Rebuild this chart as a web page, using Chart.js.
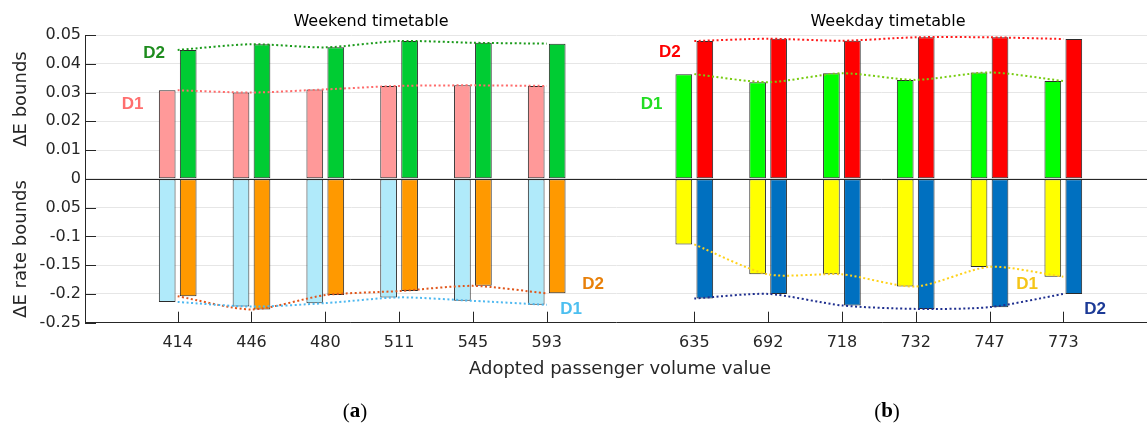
<!DOCTYPE html>
<html>
<head>
<meta charset="utf-8">
<script src="https://cdn.jsdelivr.net/npm/chart.js@4.4.1/dist/chart.umd.min.js"></script>
<style>
  html, body { margin: 0; padding: 0; background: #fff; }
  #wrap { width: 1147px; height: 430px; }
</style>
</head>
<body>
<div id="wrap"><canvas id="chart" width="1147" height="430"></canvas></div>
<script>
// ΔE bounds (upper half) and ΔE rate bounds (lower half, drawn at 1/5 scale)

const weekendVolumes = ["414", "446", "480", "511", "545", "593"];
const weekdayVolumes = ["635", "692", "718", "732", "747", "773"];
const weekendPos = [1, 2, 3, 4, 5, 6];
const weekdayPos = [8, 9, 10, 11, 12, 13];

const weekendD1Upper = [0.0308, 0.0300, 0.0311, 0.0323, 0.0325, 0.0323];
const weekendD2Upper = [0.0448, 0.0468, 0.0457, 0.0479, 0.0473, 0.0470];
const weekendD1Lower = [-0.214, -0.222, -0.216, -0.206, -0.212, -0.219];
const weekendD2Lower = [-0.204, -0.227, -0.202, -0.195, -0.186, -0.199];

const weekdayD1Upper = [0.0364, 0.0336, 0.0367, 0.0344, 0.0370, 0.0340];
const weekdayD2Upper = [0.0479, 0.0487, 0.0480, 0.0492, 0.0492, 0.0486];
const weekdayD1Lower = [-0.114, -0.166, -0.166, -0.187, -0.153, -0.170];
const weekdayD2Lower = [-0.208, -0.200, -0.220, -0.226, -0.223, -0.200];

// y ticks: plot position and the text printed next to it
const yTickPos  = [-0.05, -0.04, -0.03, -0.02, -0.01, 0, 0.01, 0.02, 0.03, 0.04, 0.05];
const yTickText = ["-0.25", "-0.2", "-0.15", "-0.1", "0.05", "0", "0.01", "0.02", "0.03", "0.04", "0.05"];

// D1 / D2 tags: text, x (category position), y (real value)
const tagText = ["D2", "D1", "D2", "D1", "D2", "D1", "D1", "D2"];
const tagX    = [0.68, 0.39, 7.67, 7.42, 6.63, 6.33, 12.51, 13.43];
const tagY    = [0.0438, 0.0259, 0.0440, 0.0259, -0.184, -0.2275, -0.184, -0.226];
const tagCol  = ["#1e8c1e", "#ff6f6f", "#ff0000", "#22dd22", "#e8800a", "#4cbff0", "#f5c518", "#1c3a96"];

const RATE_SCALE = 5;
const FONT = "'DejaVu Sans', sans-serif";
const TXT = "#262626";

const toPlot = (v) => v < 0 ? v / RATE_SCALE : v;
const pts = (vals, pos) => vals.map((v, i) => ({ x: pos[i], y: toPlot(v) }));

function barSet(vals, pos, colour, stack) {
  return {
    type: "bar",
    data: pts(vals, pos),
    backgroundColor: colour,
    borderColor: "#2a2a2a",
    borderWidth: 1,
    borderSkipped: false,
    stack,
    categoryPercentage: 0.569,
    barPercentage: 0.795,
    order: 2,
  };
}

let lineNo = 0;
function dotted(vals, pos, colour) {
  lineNo++;
  return {
    type: "line",
    data: pts(vals, pos),
    borderColor: colour,
    borderWidth: 2,
    borderDash: [2, 2.5],
    pointRadius: 0,
    fill: false,
    tension: 0.25,
    stack: "line" + lineNo,
    order: 0,
  };
}

const decor = {
  id: "decor",
  afterDatasetsDraw(chart) {
    const { ctx, chartArea: a, scales: { x, y } } = chart;
    ctx.save();
    ctx.strokeStyle = TXT;
    ctx.lineWidth = 1;
    // zero line over the bars
    const y0 = Math.round(y.getPixelForValue(0)) + 0.5;
    ctx.beginPath(); ctx.moveTo(a.left, y0); ctx.lineTo(a.right, y0); ctx.stroke();
    // inward ticks
    ctx.beginPath();
    yTickPos.forEach(v => {
      const p = Math.round(y.getPixelForValue(v)) + 0.5;
      ctx.moveTo(a.left, p); ctx.lineTo(a.left + 11, p);
    });
    weekendPos.concat(weekdayPos).forEach(v => {
      const p = Math.round(x.getPixelForValue(v)) + 0.5;
      ctx.moveTo(p, a.bottom); ctx.lineTo(p, a.bottom - 11);
    });
    ctx.stroke();
    ctx.restore();
  },
  afterDraw(chart) {
    const { ctx, scales: { x, y } } = chart;
    ctx.save();
    ctx.textAlign = "center";
    ctx.textBaseline = "middle";

    ctx.fillStyle = "#000";
    ctx.font = `16px ${FONT}`;
    ctx.fillText("Weekend timetable", 371, 22);
    ctx.fillText("Weekday timetable", 888, 22);

    ctx.fillStyle = TXT;
    ctx.font = `18px ${FONT}`;
    ctx.fillText("Adopted passenger volume value", 620, 369);

    ctx.save();
    ctx.translate(21, 99); ctx.rotate(-Math.PI / 2);
    ctx.fillText("ΔE bounds", 0, 0);
    ctx.restore();
    ctx.save();
    ctx.translate(21, 249); ctx.rotate(-Math.PI / 2);
    ctx.fillText("ΔE rate bounds", 0, 0);
    ctx.restore();

    // D1 / D2 tags
    ctx.font = `bold 17px 'Liberation Sans', Arial, sans-serif`;
    tagText.forEach((t, i) => {
      ctx.fillStyle = tagCol[i];
      ctx.fillText(t, x.getPixelForValue(tagX[i]), y.getPixelForValue(toPlot(tagY[i])));
    });

    // panel letters (a) (b)
    ctx.fillStyle = "#000";
    ctx.textAlign = "left";
    [["a", 355], ["b", 887]].forEach(([l, cx]) => {
      const reg = "21px 'Liberation Serif', serif";
      const bold = "bold 21px 'Liberation Serif', serif";
      ctx.font = reg; const wp = ctx.measureText("(").width;
      ctx.font = bold; const wl = ctx.measureText(l).width;
      let px = cx - (2 * wp + wl) / 2;
      ctx.font = reg; ctx.fillText("(", px, 412); px += wp;
      ctx.font = bold; ctx.fillText(l, px, 412); px += wl;
      ctx.font = reg; ctx.fillText(")", px, 412);
    });
    ctx.restore();
  },
};

new Chart(document.getElementById("chart"), {
  type: "bar",
  data: {
    datasets: [
      barSet(weekendD1Upper, weekendPos, "#ff9999", "D1"),
      barSet(weekendD1Lower, weekendPos, "#b0eafa", "D1"),
      barSet(weekendD2Upper, weekendPos, "#00cc33", "D2"),
      barSet(weekendD2Lower, weekendPos, "#ff9900", "D2"),
      barSet(weekdayD1Upper, weekdayPos, "#00ff00", "D1"),
      barSet(weekdayD1Lower, weekdayPos, "#ffff00", "D1"),
      barSet(weekdayD2Upper, weekdayPos, "#ff0000", "D2"),
      barSet(weekdayD2Lower, weekdayPos, "#0070c0", "D2"),
      dotted(weekendD1Upper, weekendPos, "#ff6b6b"),
      dotted(weekendD2Upper, weekendPos, "#1a9a1a"),
      dotted(weekendD1Lower, weekendPos, "#4db8f0"),
      dotted(weekendD2Lower, weekendPos, "#e0561b"),
      dotted(weekdayD1Upper, weekdayPos, "#77cc11"),
      dotted(weekdayD2Upper, weekdayPos, "#ff1a1a"),
      dotted(weekdayD1Lower, weekdayPos, "#ffd21a"),
      dotted(weekdayD2Lower, weekdayPos, "#1f2f8f"),
    ],
  },
  options: {
    responsive: false,
    animation: false,
    layout: { padding: { top: 35, left: 0, right: 0, bottom: 0 } },
    plugins: { legend: { display: false }, tooltip: { enabled: false } },
    scales: {
      x: {
        type: "linear",
        bounds: "data",
        offset: false,
        min: -0.256,
        max: 14.134,
        grid: { display: false, drawTicks: false, offset: false },
        border: { display: true, color: TXT },
        afterBuildTicks: s => { s.ticks = weekendPos.concat(weekdayPos).map(v => ({ value: v })); },
        afterFit: s => { s.height = 107.3; },
        ticks: {
          autoSkip: false,
          maxRotation: 0,
          padding: 11,
          color: TXT,
          font: { family: FONT, size: 16 },
          callback: (v, i) => weekendVolumes.concat(weekdayVolumes)[i],
        },
      },
      y: {
        min: -0.05,
        max: 0.05,
        stacked: true,
        grid: { color: "#e6e6e6", drawTicks: false },
        border: { display: true, color: TXT },
        afterBuildTicks: s => { s.ticks = yTickPos.map(v => ({ value: v })); },
        afterFit: s => { s.width = 85; },
        ticks: {
          padding: 4,
          color: TXT,
          font: { family: FONT, size: 16 },
          callback: (v, i) => yTickText[i],
        },
      },
    },
  },
  plugins: [decor],
});
</script>
</body>
</html>
